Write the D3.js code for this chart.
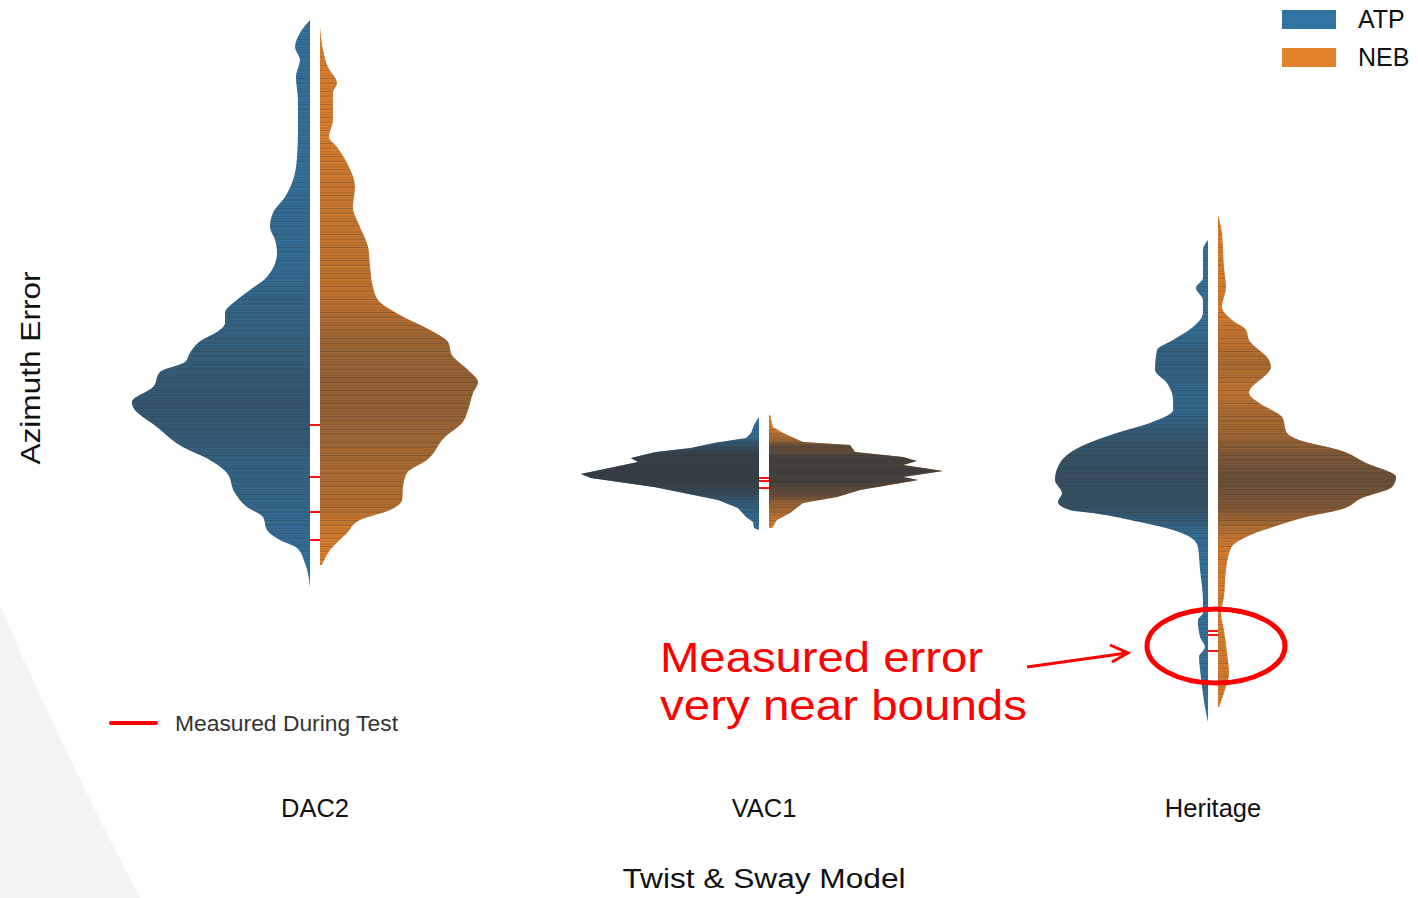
<!DOCTYPE html>
<html>
<head>
<meta charset="utf-8">
<script src="https://cdn.jsdelivr.net/npm/d3@7"></script>
<style>
  html, body { margin: 0; padding: 0; background: #fff; }
  svg { display: block; font-family: "Liberation Sans", Arial, sans-serif; }
</style>
</head>
<body>
<svg id="chart" width="1418" height="898"></svg>
<script>
const width = 1418, height = 898;
const svg = d3.select("#chart");

// categories and hue levels
const groups = ["DAC2", "VAC1", "Heritage"];
const sides = ["ATP", "NEB"];
const sideColors = ["#3274a1", "#e1812c"];

// violin outlines: [azimuth error, relative density]
const dac2Atp = [[4.30,0],[4.17,.056],[4.03,.083],[3.90,.056],[3.73,.078],[3.50,.067],[3.17,.067],[2.93,.072],
  [2.70,.094],[2.53,.139],[2.37,.206],[2.23,.222],[2.10,.194],[1.97,.183],[1.73,.239],[1.60,.333],[1.50,.406],
  [1.37,.472],[1.27,.472],[1.18,.517],[1.10,.600],[0.97,.667],[0.88,.694],[0.78,.833],[0.63,.872],[0.48,.989],
  [0.43,.983],[0.23,.850],[0.03,.706],[-0.10,.556],[-0.23,.461],[-0.43,.417],[-0.57,.350],[-0.67,.261],
  [-0.80,.239],[-0.90,.167],[-0.98,.072],[-1.13,.028],[-1.37,0]];
const dac2Neb = [[4.23,0],[4.00,.017],[3.83,.044],[3.67,.094],[3.57,.072],[3.40,.072],[3.30,.072],[3.13,.050],
  [3.03,.094],[2.87,.150],[2.63,.194],[2.43,.183],[2.23,.222],[2.03,.267],[1.83,.278],[1.63,.294],[1.50,.322],
  [1.35,.444],[1.20,.611],[1.08,.711],[0.95,.733],[0.80,.822],[0.68,.878],[0.57,.850],[0.40,.822],[0.27,.789],
  [0.13,.694],[-0.10,.594],[-0.23,.483],[-0.37,.461],[-0.50,.456],[-0.60,.389],[-0.70,.222],[-0.83,.150],
  [-1.00,.056],[-1.15,.011]];
const vac1Atp = [[0.33,0],[0.25,.028],[0.17,.044],[0.12,.072],[0.07,.250],[0.02,.378],[-0.02,.572],[-0.08,.711],
  [-0.12,.672],[-0.24,.989],[-0.28,.933],[-0.37,.583],[-0.43,.417],[-0.50,.228],[-0.58,.117],[-0.67,.072],
  [-0.72,.033],[-0.78,.028],[-0.80,0]];
const vac1Neb = [[0.35,.006],[0.23,.022],[0.17,.078],[0.08,.189],[0.05,.450],[-0.02,.478],[-0.07,.744],
  [-0.11,.822],[-0.15,.744],[-0.21,.967],[-0.27,.744],[-0.30,.828],[-0.40,.506],[-0.47,.378],[-0.53,.189],
  [-0.63,.117],[-0.70,.044],[-0.78,.017]];
const heritageAtp = [[2.10,0],[2.00,.028],[1.80,.028],[1.72,.028],[1.62,.067],[1.50,.028],[1.37,.028],[1.23,.083],
  [1.10,.194],[1.00,.283],[0.80,.294],[0.67,.228],[0.50,.194],[0.40,.194],[0.27,.322],[0.17,.506],[0.03,.711],
  [-0.13,.822],[-0.30,.850],[-0.43,.811],[-0.52,.833],[-0.60,.767],[-0.63,.639],[-0.72,.378],[-0.80,.194],
  [-0.87,.100],[-0.97,.056],[-1.20,.044],[-1.50,.028],[-1.63,.028],[-1.70,.056],[-1.87,.044],[-1.97,.017],
  [-2.07,.050],[-2.20,.044],[-2.37,.033],[-2.57,.017],[-2.72,0]];
const heritageNeb = [[2.35,0],[2.17,.022],[1.83,.033],[1.63,.044],[1.43,.022],[1.30,.078],[1.20,.156],[1.10,.172],
  [0.90,.283],[0.83,.294],[0.57,.172],[0.47,.228],[0.33,.356],[0.17,.383],[0.10,.450],[0.00,.672],[-0.13,.822],
  [-0.27,.989],[-0.37,.967],[-0.48,.800],[-0.60,.672],[-0.67,.489],[-0.75,.339],[-0.87,.156],[-0.98,.072],
  [-1.20,.044],[-1.47,.033],[-1.63,.017],[-1.80,.033],[-2.03,.050],[-2.23,.061],[-2.43,.033],[-2.57,.006]];

// errors measured during the test
const dac2Measured = [0.25, -0.27, -0.62, -0.90];
const vac1Measured = [-0.28, -0.31, -0.38];
const heritageMeasured = [-1.81, -1.85, -2.01];

const profiles = {
  DAC2: [dac2Atp, dac2Neb],
  VAC1: [vac1Atp, vac1Neb],
  Heritage: [heritageAtp, heritageNeb]
};
const measured = { DAC2: dac2Measured, VAC1: vac1Measured, Heritage: heritageMeasured };

// scales
const x = d3.scalePoint().domain(groups).range([315, 1213]);
const y = d3.scaleLinear().domain([4.5, -3]).range([0, 750]);
const w = d3.scaleLinear().domain([0, 1]).range([0, 180]);
const gap = 5;

// slide background corner
svg.append("rect").attr("width", width).attr("height", height).attr("fill", "#fff");
svg.append("path")
  .attr("d", "M0,605 Q55,735 140,898 L0,898 Z")
  .attr("fill", "#f3f3f3");

const defs = svg.append("defs");
const stripes = defs.append("pattern")
  .attr("id", "sticks")
  .attr("patternUnits", "userSpaceOnUse")
  .attr("width", 8).attr("height", 13);
[[0, 1, 0.30], [2.5, 0.7, 0.12], [4.5, 1.3, 0.24], [8, 0.8, 0.15], [10.5, 1, 0.22]].forEach(s => {
  stripes.append("rect").attr("x", 0).attr("y", s[0]).attr("width", 8).attr("height", s[1])
    .attr("fill", "#2a2a2a").attr("opacity", s[2]);
});

groups.forEach((g, gi) => {
  profiles[g].forEach((prof, si) => {
    const dir = si === 0 ? -1 : 1;
    const cx = x(g) + dir * gap;
    const area = d3.area()
      .y(d => y(d[0]))
      .x0(cx)
      .x1(d => cx + dir * w(d[1]))
      .curve(g === "VAC1" ? d3.curveLinear : d3.curveMonotoneY);

    // stick density: how crowded the observations are per pixel
    let A = 0;
    for (let i = 1; i < prof.length; i++) {
      A += (prof[i - 1][1] + prof[i][1]) / 2 * (y(prof[i][0]) - y(prof[i - 1][0]));
    }
    const top = y(prof[0][0]), bot = y(prof[prof.length - 1][0]);
    const grad = defs.append("linearGradient")
      .attr("id", `shade-${gi}-${si}`)
      .attr("gradientUnits", "userSpaceOnUse")
      .attr("x1", 0).attr("x2", 0).attr("y1", top).attr("y2", bot);
    prof.forEach(d => {
      grad.append("stop")
        .attr("offset", (y(d[0]) - top) / (bot - top))
        .attr("stop-color", "#363a3e")
        .attr("stop-opacity", Math.min(0.95, 1 - Math.exp(-125 * d[1] / A)));
    });

    svg.append("path").datum(prof)
      .attr("d", area)
      .attr("fill", sideColors[si]);
    svg.append("path").datum(prof)
      .attr("d", area)
      .attr("fill", `url(#shade-${gi}-${si})`);
    svg.append("path").datum(prof)
      .attr("d", area)
      .attr("fill", "url(#sticks)");
  });

  svg.selectAll(`.meas-${gi}`)
    .data(measured[g])
    .enter().append("line")
    .attr("class", `meas-${gi}`)
    .attr("x1", x(g) - gap).attr("x2", x(g) + gap)
    .attr("y1", d => y(d)).attr("y2", d => y(d))
    .attr("stroke", "#ff1010")
    .attr("stroke-width", 2);
});

// category labels
svg.selectAll(".cat")
  .data(groups)
  .enter().append("text")
  .attr("class", "cat")
  .attr("x", d => x(d))
  .attr("y", 817)
  .attr("text-anchor", "middle")
  .style("font-size", "25.5px")
  .attr("fill", "#111")
  .text(d => d);

// axis labels
svg.append("text")
  .attr("x", 764).attr("y", 888)
  .attr("text-anchor", "middle")
  .attr("textLength", 283).attr("lengthAdjust", "spacingAndGlyphs")
  .style("font-size", "27px")
  .attr("fill", "#111")
  .text("Twist & Sway Model");

svg.append("text")
  .attr("transform", "translate(40,368) rotate(-90)")
  .attr("text-anchor", "middle")
  .attr("textLength", 193).attr("lengthAdjust", "spacingAndGlyphs")
  .style("font-size", "27px")
  .attr("fill", "#111")
  .text("Azimuth Error");

// hue legend
const legend = svg.selectAll(".legend")
  .data(sides)
  .enter().append("g")
  .attr("class", "legend")
  .attr("transform", (d, i) => `translate(1282,${10 + i * 38})`);
legend.append("rect")
  .attr("width", 54).attr("height", 19)
  .attr("fill", (d, i) => sideColors[i]);
legend.append("text")
  .attr("x", 76).attr("y", 18)
  .style("font-size", "25px")
  .attr("fill", "#111")
  .text(d => d);

// measured marker legend
svg.append("line")
  .attr("x1", 111).attr("x2", 156).attr("y1", 723).attr("y2", 723)
  .attr("stroke", "#ff0000").attr("stroke-width", 4).attr("stroke-linecap", "round");
svg.append("text")
  .attr("x", 175).attr("y", 731)
  .attr("textLength", 223).attr("lengthAdjust", "spacingAndGlyphs")
  .style("font-size", "22px")
  .attr("fill", "#333")
  .text("Measured During Test");

// annotation
const note = svg.append("g").attr("fill", "#ff0000");
note.append("text").attr("x", 660).attr("y", 672)
  .attr("textLength", 323).attr("lengthAdjust", "spacingAndGlyphs")
  .style("font-size", "42px").text("Measured error");
note.append("text").attr("x", 660).attr("y", 720)
  .attr("textLength", 367).attr("lengthAdjust", "spacingAndGlyphs")
  .style("font-size", "42px").text("very near bounds");

svg.append("line")
  .attr("x1", 1027).attr("y1", 667).attr("x2", 1127).attr("y2", 653)
  .attr("stroke", "#ff0000").attr("stroke-width", 3);
svg.append("path")
  .attr("d", "M1110,645 L1128,653 L1112,662")
  .attr("fill", "none").attr("stroke", "#ff0000").attr("stroke-width", 3)
  .attr("stroke-linejoin", "miter");

svg.append("ellipse")
  .attr("cx", 1216).attr("cy", 646).attr("rx", 69).attr("ry", 37)
  .attr("fill", "none").attr("stroke", "#ff0000").attr("stroke-width", 5);
</script>
</body>
</html>
